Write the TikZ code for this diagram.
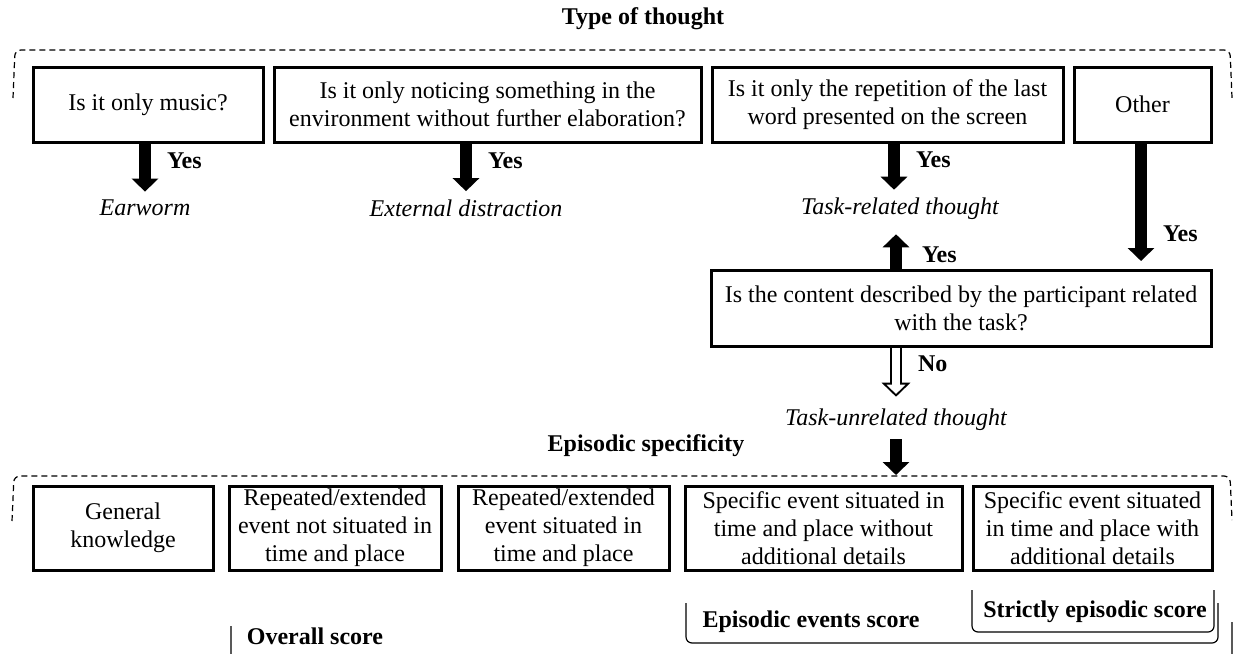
\documentclass[tikz,border=0pt,12pt]{standalone}
\usepackage{fontspec}
\setmainfont{Liberation Serif}
\usetikzlibrary{arrows.meta}
\usetikzlibrary{positioning}
\tikzstyle{question_box}=[draw=black, line width=1.5pt, align=center, inner sep=2pt, minimum height=37.5pt, font=\fontsize{12}{14}\selectfont]
\tikzstyle{level_box}=[draw=black, line width=1.5pt, align=center, inner sep=0pt, minimum height=42pt, font=\fontsize{12}{14}\selectfont]
\tikzstyle{outcome}=[font=\itshape, inner sep=4pt]
\tikzstyle{answer}=[font=\bfseries, inner sep=2pt]
\tikzstyle{solid_arrow}=[line width=6pt, -{Triangle[width=13pt,length=6.5pt]}]
\tikzstyle{hollow_outer}=[line width=6pt, -{Triangle[width=14pt,length=7pt]}]
\tikzstyle{hollow_inner}=[white, line width=4pt, shorten >=1.4pt, -{Triangle[width=9.2pt,length=4.6pt]}]
\tikzstyle{dashed_frame}=[line width=0.6pt, dash pattern=on 3pt off 2pt, rounded corners=3pt]
\tikzstyle{score_bracket}=[line width=0.6pt, rounded corners=3pt]

\begin{document}
\begin{tikzpicture}[x=0.5pt, y=-0.5pt]
          \useasboundingbox (0,0) rectangle (1234,653);
          \node[answer] (type_title) at (643,19) {Type of thought};
          \draw[dashed_frame] (13,98) -- (15,50) -- (1230,50) -- (1232,98);
          \node[question_box, minimum width=115pt] (q1) at (148,104.5) {Is it only music?};
          \node[question_box, minimum width=213.5pt] (q2) at (487.5,104.5) {Is it only noticing something in the\\environment without further elaboration?};
          \node[question_box, minimum width=175.5pt] (q3) at (887.5,104.5) {Is it only the repetition of the last\\word presented on the screen};
          \node[question_box, minimum width=68.5pt] (q4) at (1142.5,104.5) {Other};
          \node[outcome] (res1) at (145,208) {Earworm};
          \node[outcome] (res2) at (466,208) {External distraction};
          \node[outcome] (res3) at (900,209) {Task-related thought};
          \draw[solid_arrow] (res1 |- q1.south) -- (res1.north) node[answer, pos=0.36, right=6pt] {Yes};
          \draw[solid_arrow] (res2 |- q2.south) -- (res2.north) node[answer, pos=0.36, right=6pt] {Yes};
          \draw[solid_arrow] (q3.south -| 894,0) -- (res3.north -| 894,0) node[answer, pos=0.36, right=6pt] {Yes};
          \node[question_box, minimum width=250pt, minimum height=38pt] (q5) at (961,308.5) {Is the content described by the participant related\\with the task?};
          \draw[solid_arrow, shorten >=4pt] (q4.south -| 1141,0) -- (q5.north -| 1141,0) node[answer, pos=0.72, right=6pt] {Yes};
          \draw[solid_arrow, shorten >=3pt] (q5.north -| 896,0) -- (res3.south -| 896,0) node[answer, pos=0.35, right=8pt] {Yes};
          \node[outcome] (res4) at (896,420) {Task-unrelated thought};
          \draw[hollow_outer, shorten >=2pt] (q5.south -| res4) -- (res4.north);
          \draw[hollow_inner, shorten >=3.4pt] (q5.south -| res4) -- (res4.north) node[answer, black, pos=0.3, right=7pt] {No};
          \node[answer] (spec_title) at (646,446) {Episodic specificity};
          \coordinate (spec_in) at (896,475);
          \draw[solid_arrow] (res4.south) -- (spec_in);
          \draw[dashed_frame] (12,521) -- (14,476) -- (1230,476) -- (1232,520);
          \node[level_box, minimum width=90pt] (c1) at (123,528) {General\\knowledge};
          \node[level_box, minimum width=106pt] (c2) at (335,528) {Repeated/extended\\event not situated in\\time and place};
          \node[level_box, minimum width=105.5pt] (c3) at (563.5,528) {Repeated/extended\\event situated in\\time and place};
          \node[level_box, minimum width=138.5pt] (c4) at (823.5,528) {Specific event situated in\\time and place without\\additional details};
          \node[level_box, minimum width=119.5pt] (c5) at (1092.5,528) {Specific event situated\\in time and place with\\additional details};
          \node[answer] (strict_score) at (1095,612) {Strictly episodic score};
          \node[answer] (events_score) at (811,622) {Episodic events score};
          \node[answer] (overall_score) at (315,636) {Overall score};
          \draw[score_bracket] (972,590) -- (972,632) -- (1214,632) -- (1214,590);
          \draw[score_bracket] (686,603) -- (686,643) -- (1218,643) -- (1218,603);
          \draw[score_bracket] (231,626) -- (231,665) -- (1232,665) -- (1232,622);
        \end{tikzpicture}
\end{document}
